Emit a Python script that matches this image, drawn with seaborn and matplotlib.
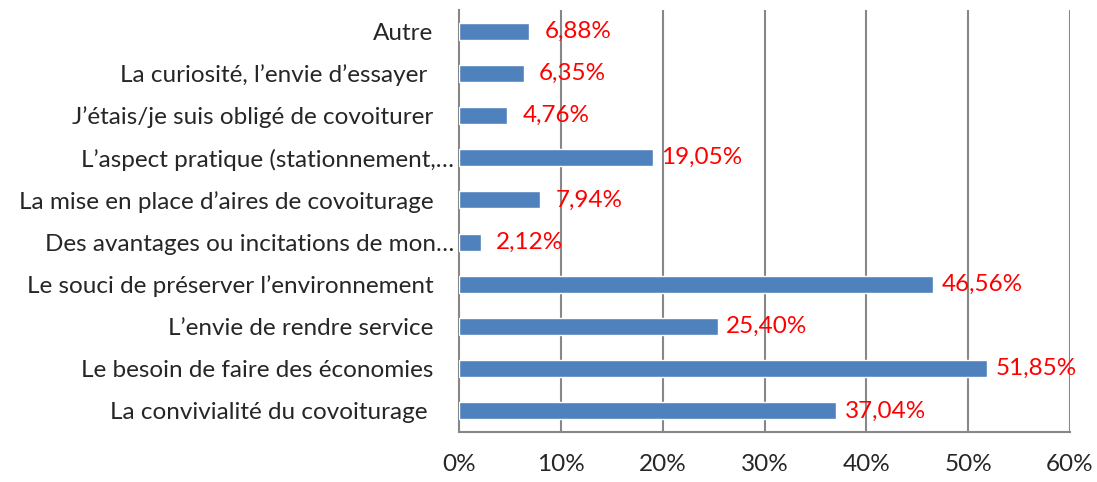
import matplotlib
matplotlib.use("Agg")
import matplotlib.pyplot as plt
import matplotlib.transforms as mtransforms
from matplotlib.ticker import FixedLocator, PercentFormatter
import seaborn as sns
import pandas as pd

# Data (top to bottom as shown)
categories = [
    "Autre",
    "La curiosité, l\u2019envie d\u2019essayer ",
    "J\u2019étais/je suis obligé de covoiturer",
    "L\u2019aspect pratique (stationnement,\u2026",
    "La mise en place d\u2019aires de covoiturage",
    "Des avantages ou incitations de mon\u2026",
    "Le souci de préserver l\u2019environnement",
    "L\u2019envie de rendre service",
    "Le besoin de faire des économies",
    "La convivialité du covoiturage ",
]
values = [6.88, 6.35, 4.76, 19.05, 7.94, 2.12, 46.56, 25.40, 51.85, 37.04]
xticks = [0, 10, 20, 30, 40, 50, 60]

bar_color = "#4F81BD"
grid_color = "#878787"

sns.set_style("white")
plt.rcParams["font.family"] = ["Lato", "DejaVu Sans"]

df = pd.DataFrame({"cat": categories, "val": values})

fig = plt.figure(figsize=(10.97, 4.82), dpi=100)
ax = fig.add_axes([459 / 1097, 50 / 482, (1070 - 459) / 1097, (432 - 10) / 482])

sns.barplot(data=df, x="val", y="cat", color=bar_color, width=0.4,
            saturation=1, ax=ax, zorder=3)

ax.set_xlim(0, 60)
ax.set_ylim(len(categories) - 0.5, -0.5)
ax.set_xticks(xticks)
ax.xaxis.set_major_formatter(PercentFormatter(decimals=0))
ax.set_xlabel("")
ax.set_ylabel("")

# vertical gridlines
for t in xticks[1:]:
    ax.axvline(t, color=grid_color, lw=1.5, zorder=1)

for s in ["top", "right"]:
    ax.spines[s].set_visible(False)
for s in ["left", "bottom"]:
    ax.spines[s].set_color(grid_color)
    ax.spines[s].set_linewidth(1.5)

ax.tick_params(axis="x", length=7, width=1.5, color=grid_color, pad=9,
               labelsize=17.5, direction="out")
ax.tick_params(axis="y", which="major", length=0, pad=18.5, labelsize=17.5)
ax.yaxis.set_minor_locator(FixedLocator([i - 0.5 for i in range(len(categories) + 1)]))
ax.tick_params(axis="y", which="minor", length=5, width=1.5, color=grid_color)

# truncated labels sit closer to the axis
shift = mtransforms.ScaledTranslation(21 / 100, 0, fig.dpi_scale_trans)
for lab in ax.get_yticklabels():
    if lab.get_text().endswith("\u2026"):
        lab.set_transform(lab.get_transform() + shift)

# data labels
off = mtransforms.ScaledTranslation(49 / 100, 0, fig.dpi_scale_trans)
for i, v in enumerate(values):
    ax.text(v, i, f"{v:.2f}%".replace(".", ","), color="red", fontsize=17.5,
            ha="center", va="center", zorder=4,
            transform=ax.transData + off)

fig.savefig("out.png", dpi=100)
